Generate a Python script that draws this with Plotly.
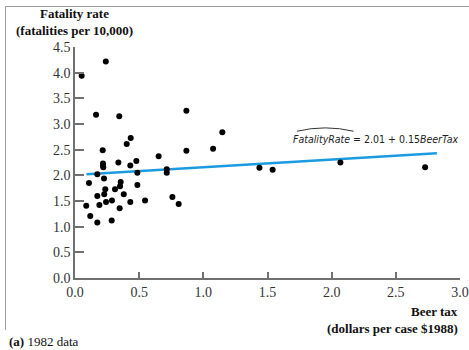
import plotly.graph_objects as go

beer_tax = [0.052, 0.24, 0.164, 0.345, 0.868, 1.148, 0.434, 0.403, 0.216, 0.868,
            1.076, 0.652, 0.338, 0.218, 0.218, 0.220, 0.431, 0.478, 0.486, 0.715,
            0.715, 0.174, 0.226, 0.109, 0.356, 0.351, 0.312, 0.236, 0.486, 0.174,
            0.228, 0.380, 0.190, 0.088, 0.242, 0.288, 0.431, 0.546, 0.348, 0.119,
            0.174, 0.286, 0.759, 0.808, 1.437, 1.540, 2.068, 2.728]
fatality = [3.94, 4.22, 3.18, 3.15, 3.26, 2.84, 2.73, 2.61, 2.49, 2.48,
            2.52, 2.37, 2.25, 2.23, 2.19, 2.16, 2.19, 2.28, 2.05, 2.12,
            2.05, 2.02, 1.94, 1.85, 1.87, 1.79, 1.73, 1.73, 1.81, 1.60,
            1.63, 1.63, 1.42, 1.41, 1.48, 1.51, 1.48, 1.51, 1.36, 1.21,
            1.08, 1.12, 1.58, 1.44, 2.15, 2.11, 2.25, 2.16]

intercept, slope = 2.01, 0.15
line_x = [0.09, 2.82]
line_y = [intercept + slope * v for v in line_x]

x_ticks = [0.0, 0.5, 1.0, 1.5, 2.0, 2.5, 3.0]
y_ticks = [0.0, 0.5, 1.0, 1.5, 2.0, 2.5, 3.0, 3.5, 4.0, 4.5]

serif = "Liberation Serif, Times New Roman, serif"
sans = "DejaVu Sans Condensed, Liberation Sans Narrow, sans-serif"
axis_col = "#707070"
frame_col = "#a0a0a0"

fig = go.Figure()
# empty trace on the frame axes so that the frame subplot exists (drawn first)
fig.add_trace(go.Scatter(x=[], y=[], xaxis="x2", yaxis="y2", hoverinfo="skip"))
fig.add_trace(go.Scatter(x=line_x, y=line_y, mode="lines",
                         line=dict(color="#1a9be0", width=2.5), hoverinfo="skip"))
fig.add_trace(go.Scatter(x=beer_tax, y=fatality, mode="markers",
                         marker=dict(color="black", size=6)))

fig.update_layout(
    template="none",
    width=469, height=350, autosize=False,
    margin=dict(l=6, r=0, t=7, b=20, autoexpand=False),
    paper_bgcolor="white", plot_bgcolor="rgba(0,0,0,0)",
    showlegend=False,
    font=dict(family=serif, size=13, color="#222"),
    xaxis=dict(domain=[0.149, 0.9806], range=[0, 3.0], tickvals=x_ticks, tickformat=".1f",
               automargin=False, anchor="y",
               showgrid=False, zeroline=False, showline=True,
               linecolor=axis_col, linewidth=1.5,
               ticks="inside", ticklen=6, tickcolor=axis_col, tickwidth=1.5,
               tickfont=dict(family=serif, size=14, color="#333")),
    yaxis=dict(domain=[0.161, 0.876], range=[0, 4.5], tickvals=y_ticks, tickformat=".1f",
               automargin=False, anchor="x",
               showgrid=False, zeroline=False, showline=True,
               linecolor=axis_col, linewidth=1.5,
               ticks="inside", ticklen=9, tickcolor=axis_col, tickwidth=1.5,
               tickfont=dict(family=serif, size=14, color="#333")),
    xaxis2=dict(domain=[0, 1], anchor="y2", side="top", range=[0, 1],
                showline=True, linecolor=frame_col, linewidth=1.2,
                showgrid=False, zeroline=False, showticklabels=False, ticks="",
                automargin=False, fixedrange=True),
    yaxis2=dict(domain=[0, 1], anchor="x2", side="left", range=[0, 1],
                showline=True, linecolor=frame_col, linewidth=1.2,
                showgrid=False, zeroline=False, showticklabels=False, ticks="",
                automargin=False, fixedrange=True),
)

anns = [
    dict(text="<b>Fatality rate</b>", x=0.0, y=1.145,
         xanchor="center", yanchor="middle", font=dict(family=serif, size=13, color="#111")),
    dict(text="<b>(fatalities per 10,000)</b>", x=0.0, y=1.07,
         xanchor="center", yanchor="middle", font=dict(family=serif, size=13, color="#111")),
    dict(text="<b>Beer tax</b>", x=1.0, y=-0.147,
         xanchor="right", yanchor="middle", font=dict(family=serif, size=13, color="#111")),
    dict(text="<b>(dollars per case $1988)</b>", x=1.0, y=-0.22,
         xanchor="right", yanchor="middle", font=dict(family=serif, size=13, color="#111")),
    dict(text="<b>(a)</b> 1982 data", x=-0.177, y=-0.277,
         xanchor="left", yanchor="middle", font=dict(family=serif, size=13, color="#111")),
]
for a in anns:
    a.update(xref="x domain", yref="y domain", showarrow=False)
    fig.add_annotation(**a)

fig.add_annotation(text="<i>FatalityRate</i> = 2.01 + 0.15<i>BeerTax</i>", x=1.0, y=2.71,
                   xref="x domain", yref="y", xanchor="right", yanchor="middle",
                   showarrow=False, font=dict(family=sans, size=10.5, color="#222"))

# hat over FatalityRate
fig.add_shape(type="path", xref="x", yref="y",
              path="M 1.73 2.86 Q 1.95 2.99 2.17 2.86",
              line=dict(color="#333", width=1))

fig.write_html("out.html",
               config={"displayModeBar": False, "responsive": False},
               post_script="document.body.style.margin='0';document.body.style.overflow='hidden';")
